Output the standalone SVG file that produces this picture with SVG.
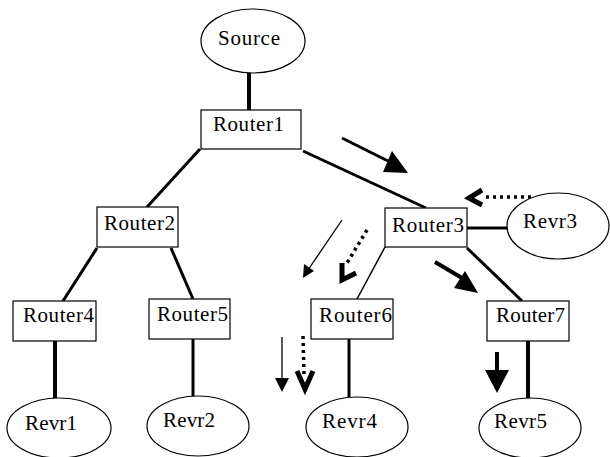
<svg xmlns="http://www.w3.org/2000/svg" width="610" height="457" viewBox="0 0 610 457">
<style>
.box{fill:#fff;stroke:#000;stroke-width:1.2}
.el{fill:#fff;stroke:#000;stroke-width:1.2}
.t{font-family:"Liberation Serif","Times New Roman",serif;font-size:21px;fill:#000}
.ln{stroke:#000;fill:none;stroke-linecap:butt}
.dot{stroke:#000;fill:none;stroke-width:3.5;stroke-dasharray:3 4}
.chev{stroke:#000;fill:none;stroke-width:5;stroke-linejoin:miter}
</style>
<rect width="610" height="457" fill="#fff"/>
<g id="connectors">
<line class="ln" x1="249" y1="73" x2="249" y2="110" stroke-width="4"/>
<line class="ln" x1="200" y1="149" x2="147" y2="207" stroke-width="3"/>
<line class="ln" x1="303" y1="151" x2="426" y2="208" stroke-width="3"/>
<line class="ln" x1="97" y1="248" x2="63" y2="301" stroke-width="3"/>
<line class="ln" x1="171" y1="248" x2="193" y2="299" stroke-width="3"/>
<line class="ln" x1="467" y1="228" x2="507" y2="228" stroke-width="3"/>
<line class="ln" x1="385" y1="247" x2="357" y2="299" stroke-width="1.5"/>
<line class="ln" x1="467" y1="248" x2="522" y2="301" stroke-width="3"/>
<line class="ln" x1="55" y1="341" x2="55" y2="398" stroke-width="4"/>
<line class="ln" x1="193" y1="339" x2="193" y2="396" stroke-width="3"/>
<line class="ln" x1="349" y1="339" x2="349" y2="397" stroke-width="3"/>
<line class="ln" x1="528" y1="341" x2="528" y2="399" stroke-width="4"/>
</g>
<g id="arrows">
<line class="ln" x1="342" y1="138" x2="392" y2="163" stroke-width="3"/>
<polygon points="408,173 392,151 383,172"/>
<line class="dot" x1="531" y1="197" x2="484" y2="197"/>
<polyline class="chev" points="482,190 469,198 482,205"/>
<line class="ln" x1="342" y1="220" x2="308" y2="270" stroke-width="1.3"/>
<polygon points="303,278 304,264 314,271"/>
<line class="dot" x1="367" y1="230" x2="347" y2="263"/>
<polyline class="chev" points="342,263 342,280 356,273"/>
<line class="ln" x1="282" y1="337" x2="282" y2="380" stroke-width="1.3"/>
<polygon points="282,392 275,378 289,378"/>
<line class="dot" x1="303" y1="336" x2="304" y2="375"/>
<polyline class="chev" points="297,371 305,389 313,371"/>
<line class="ln" x1="435" y1="262" x2="462" y2="278" stroke-width="4"/>
<polygon points="478,293 465,271 454,288"/>
<line class="ln" x1="497" y1="352" x2="497" y2="371" stroke-width="4"/>
<polygon points="497,393 485,370 509,370"/>
</g>
<g id="Source"><ellipse class="el" cx="253" cy="41" rx="52" ry="32"/><text class="t" x="218" y="45" textLength="62">Source</text></g>
<g id="Router1"><rect class="box" x="201" y="110" width="100" height="39"/><text class="t" x="213" y="131" textLength="71">Router1</text></g>
<g id="Router2"><rect class="box" x="97" y="207" width="81" height="40"/><text class="t" x="104" y="230" textLength="71">Router2</text></g>
<g id="Router3"><rect class="box" x="385" y="208" width="82" height="39"/><text class="t" x="392" y="232" textLength="72">Router3</text></g>
<g id="Revr3"><ellipse class="el" cx="558" cy="226" rx="51" ry="33"/><text class="t" x="523" y="228" textLength="54">Revr3</text></g>
<g id="Router4"><rect class="box" x="13" y="301" width="83" height="40"/><text class="t" x="23" y="322" textLength="71">Router4</text></g>
<g id="Router5"><rect class="box" x="149" y="299" width="81" height="40"/><text class="t" x="157" y="321" textLength="71">Router5</text></g>
<g id="Router6"><rect class="box" x="311" y="299" width="82" height="40"/><text class="t" x="319" y="322" textLength="73">Router6</text></g>
<g id="Router7"><rect class="box" x="487" y="301" width="82" height="40"/><text class="t" x="496" y="322" textLength="69">Router7</text></g>
<g id="Revr1"><ellipse class="el" cx="59" cy="428" rx="52" ry="30"/><text class="t" x="25" y="430" textLength="52">Revr1</text></g>
<g id="Revr2"><ellipse class="el" cx="198" cy="426" rx="51" ry="30"/><text class="t" x="163" y="427" textLength="52">Revr2</text></g>
<g id="Revr4"><ellipse class="el" cx="357" cy="427" rx="51" ry="30"/><text class="t" x="322" y="428" textLength="55">Revr4</text></g>
<g id="Revr5"><ellipse class="el" cx="530" cy="428" rx="51" ry="30"/><text class="t" x="494" y="428" textLength="53">Revr5</text></g>
</svg>
